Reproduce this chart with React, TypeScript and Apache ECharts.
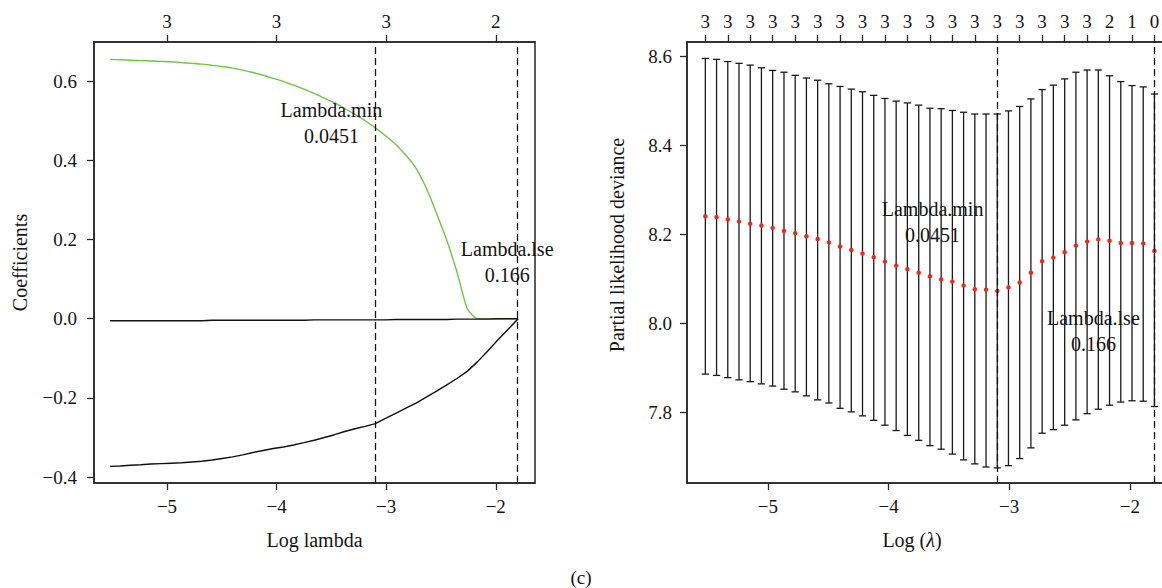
import React, { useEffect, useRef } from "react";
import * as echarts from "echarts";

// ---------- data ----------
const logLambda = [
  -5.519, -5.426, -5.333, -5.24, -5.147, -5.054, -4.961, -4.867, -4.774, -4.681,
  -4.588, -4.495, -4.402, -4.309, -4.216, -4.123, -4.03, -3.937, -3.844, -3.75,
  -3.657, -3.564, -3.471, -3.378, -3.285, -3.192, -3.099, -3.006, -2.913, -2.82,
  -2.727, -2.634, -2.54, -2.447, -2.354, -2.261, -2.168, -2.075, -1.982, -1.889,
  -1.796,
];

const cvMean = [
  8.241, 8.239, 8.234, 8.229, 8.224, 8.22, 8.215, 8.208, 8.203, 8.196,
  8.19, 8.182, 8.173, 8.165, 8.157, 8.149, 8.139, 8.13, 8.122, 8.114,
  8.106, 8.099, 8.094, 8.085, 8.077, 8.076, 8.073, 8.081, 8.092, 8.114,
  8.14, 8.148, 8.16, 8.175, 8.184, 8.189, 8.186, 8.181, 8.181, 8.18,
  8.163,
];

const cvUpper = [
  8.596, 8.594, 8.589, 8.585, 8.581, 8.575, 8.569, 8.565, 8.558, 8.552,
  8.547, 8.539, 8.533, 8.527, 8.521, 8.513, 8.506, 8.5, 8.496, 8.491,
  8.484, 8.483, 8.479, 8.475, 8.471, 8.471, 8.471, 8.478, 8.488, 8.505,
  8.526, 8.536, 8.55, 8.565, 8.57, 8.57, 8.557, 8.544, 8.535, 8.532,
  8.516,
];

const cvLower = [
  7.886, 7.883, 7.878, 7.873, 7.869, 7.864, 7.859, 7.852, 7.846, 7.837,
  7.828, 7.821, 7.809, 7.801, 7.792, 7.782, 7.771, 7.759, 7.748, 7.737,
  7.725, 7.717, 7.706, 7.693, 7.684, 7.677, 7.675, 7.68, 7.696, 7.72,
  7.753, 7.761, 7.771, 7.783, 7.797, 7.807, 7.816, 7.823, 7.826, 7.825,
  7.813,
];

const coefGreen = [
  0.655, 0.654, 0.653, 0.652, 0.651, 0.65, 0.649, 0.647, 0.645, 0.643,
  0.64, 0.637, 0.633, 0.628, 0.622, 0.615, 0.607, 0.599, 0.59, 0.58,
  0.569, 0.557, 0.545, 0.531, 0.516, 0.5, 0.482, 0.462, 0.44, 0.413,
  0.38, 0.33, 0.266, 0.198, 0.118, 0.026, 0, 0, 0, 0,
  0,
];

const coefBlackA = [
  -0.005, -0.005, -0.005, -0.005, -0.005, -0.005, -0.005, -0.005, -0.005, -0.005,
  -0.004, -0.004, -0.004, -0.004, -0.004, -0.004, -0.004, -0.004, -0.004, -0.004,
  -0.003, -0.003, -0.003, -0.003, -0.003, -0.003, -0.003, -0.003, -0.002, -0.002,
  -0.002, -0.002, -0.002, -0.002, -0.001, -0.001, -0.001, -0.001, 0, 0,
  0,
];

const coefBlackB = [
  -0.373, -0.372, -0.37, -0.369, -0.367, -0.366, -0.365, -0.364, -0.362, -0.36,
  -0.357, -0.353, -0.349, -0.344, -0.338, -0.333, -0.328, -0.324, -0.319, -0.313,
  -0.307, -0.3, -0.293, -0.285, -0.278, -0.272, -0.265, -0.252, -0.239, -0.226,
  -0.213, -0.198, -0.183, -0.167, -0.151, -0.133, -0.109, -0.082, -0.054, -0.027,
  0,
];

// number of non-zero coefficients at every second lambda (top axis of CV plot)
const cvTopLabels = [
  "3", "3", "3", "3", "3", "3", "3", "3", "3", "3",
  "3", "3", "3", "3", "3", "3", "3", "3", "2", "1", "0",
];

const coefTopTicks = [-5, -4, -3, -2];
const coefTopLabels = ["3", "3", "3", "2"];

const xTicks = [-5, -4, -3, -2];
const coefYTicks = [-0.4, -0.2, 0, 0.2, 0.4, 0.6];
const cvYTicks = [7.8, 8.0, 8.2, 8.4, 8.6];

const lambdaMin = "0.0451";
const lambdaLse = "0.166";
const logLambdaMin = -3.099;
const logLambdaLse = -1.796;

// ---------- style ----------
const FONT = "Liberation Serif";
const INK = "#141414";
const AXIS = "#262626";

const minus = (s: string) => s.replace("-", "\u2212");
const fmtInt = (v: number) => minus(String(Math.round(v)));
const fmt1 = (v: number) => minus((Math.abs(v) < 1e-9 ? 0 : v).toFixed(1));

const cvTopTicks = logLambda.filter((_, i) => i % 2 === 0);

function labelFromList(ticks: number[], labels: string[]) {
  return (v: number) => {
    let best = 0;
    let bd = Infinity;
    ticks.forEach((t, i) => {
      const d = Math.abs(t - v);
      if (d < bd) {
        bd = d;
        best = i;
      }
    });
    return labels[best];
  };
}

function xAxisCfg(grid: number, pos: "top" | "bottom", min: number, max: number, ticks: number[], formatter: (v: number) => string, margin: number) {
  return {
    type: "value",
    gridIndex: grid,
    position: pos,
    min,
    max,
    splitLine: { show: false },
    axisLine: { show: true, onZero: false, lineStyle: { color: AXIS, width: 1.5 } },
    axisTick: { show: true, customValues: ticks, length: 7, lineStyle: { color: AXIS, width: 1.3 } },
    axisLabel: {
      show: true,
      customValues: ticks,
      formatter,
      margin,
      fontFamily: FONT,
      fontSize: 19,
      color: INK,
      hideOverlap: false,
    },
  };
}

function yAxisCfg(grid: number, min: number, max: number, ticks: number[], margin: number) {
  return {
    type: "value",
    gridIndex: grid,
    min,
    max,
    splitLine: { show: false },
    axisLine: { show: true, onZero: false, lineStyle: { color: AXIS, width: 1.5 } },
    axisTick: { show: true, customValues: ticks, length: 7, lineStyle: { color: AXIS, width: 1.3 } },
    axisLabel: { show: true, customValues: ticks, formatter: fmt1, margin, fontFamily: FONT, fontSize: 19, color: INK },
  };
}

const dashedLines = {
  silent: true,
  symbol: ["none", "none"],
  label: { show: false },
  lineStyle: { type: [7, 4], color: INK, width: 1.3, opacity: 1 },
  data: [{ xAxis: logLambdaMin }, { xAxis: logLambdaLse }],
};

const annoLabel = {
  show: true,
  position: "inside",
  formatter: (p: any) => p.data[2],
  fontFamily: FONT,
  fontSize: 20,
  lineHeight: 26,
  color: INK,
  opacity: 1,
  textBorderWidth: 0,
  textBorderColor: "transparent",
};

const textStyle = (text: string, size: number) => ({
  text,
  fontFamily: FONT,
  fontSize: size,
  fill: INK,
  align: "center",
  verticalAlign: "middle",
});

export default function App() {
  const ref = useRef<HTMLDivElement>(null);

  useEffect(() => {
    if (!ref.current) return;
    const chart = echarts.init(ref.current, undefined, { renderer: "svg" });

    const zip = (ys: number[]) => logLambda.map((x, i) => [x, ys[i]]);

    const gridBase = {
      top: 42,
      height: 441,
      show: true,
      borderColor: AXIS,
      borderWidth: 1.5,
      containLabel: false,
      outerBoundsMode: "none",
    };

    const option: any = {
      animation: false,
      backgroundColor: "#ffffff",
      grid: [
        { ...gridBase, left: 94, width: 441 },
        { ...gridBase, left: 687, width: 486 },
      ],
      xAxis: [
        xAxisCfg(0, "bottom", -5.666, -1.642, xTicks, fmtInt, 14),
        xAxisCfg(0, "top", -5.666, -1.642, coefTopTicks, labelFromList(coefTopTicks, coefTopLabels), 11),
        xAxisCfg(1, "bottom", -5.671, -1.642, xTicks, fmtInt, 14),
        xAxisCfg(1, "top", -5.671, -1.642, cvTopTicks, labelFromList(cvTopTicks, cvTopLabels), 11),
      ],
      yAxis: [
        yAxisCfg(0, -0.415, 0.699, coefYTicks, 17),
        yAxisCfg(1, 7.641, 8.633, cvYTicks, 15),
      ],
      series: [
        {
          type: "line",
          xAxisIndex: 0,
          yAxisIndex: 0,
          data: zip(coefGreen),
          showSymbol: false,
          smooth: 0.2,
          lineStyle: { color: "#6cc644", width: 1.4 },
          z: 2,
          markLine: dashedLines,
        },
        {
          type: "line",
          xAxisIndex: 0,
          yAxisIndex: 0,
          data: zip(coefBlackA),
          showSymbol: false,
          lineStyle: { color: "#111", width: 1.4 },
          z: 3,
        },
        {
          type: "line",
          xAxisIndex: 0,
          yAxisIndex: 0,
          data: zip(coefBlackB),
          showSymbol: false,
          lineStyle: { color: "#111", width: 1.4 },
          z: 3,
        },
        {
          type: "scatter",
          xAxisIndex: 0,
          yAxisIndex: 0,
          symbolSize: 0,
          itemStyle: { opacity: 1 },
          data: [
            [-3.5, 0.4945, "Lambda.min\n" + lambdaMin],
            [-1.896, 0.1425, "Lambda.lse\n" + lambdaLse],
          ],
          label: annoLabel,
          z: 5,
        },
        {
          type: "custom",
          xAxisIndex: 2,
          yAxisIndex: 1,
          data: logLambda.map((x, i) => [x, cvLower[i], cvUpper[i]]),
          renderItem: (params: any, api: any) => {
            const x = api.value(0);
            const lo = api.coord([x, api.value(1)]);
            const hi = api.coord([x, api.value(2)]);
            const hw = 3.6;
            const st = { stroke: "#1a1a1a", lineWidth: 1.3 };
            return {
              type: "group",
              children: [
                { type: "line", shape: { x1: lo[0], y1: lo[1], x2: hi[0], y2: hi[1] }, style: st },
                { type: "line", shape: { x1: hi[0] - hw, y1: hi[1], x2: hi[0] + hw, y2: hi[1] }, style: st },
                { type: "line", shape: { x1: lo[0] - hw, y1: lo[1], x2: lo[0] + hw, y2: lo[1] }, style: st },
              ],
            };
          },
          z: 2,
        },
        {
          type: "scatter",
          xAxisIndex: 2,
          yAxisIndex: 1,
          data: zip(cvMean),
          symbol: "circle",
          symbolSize: 4.5,
          itemStyle: { color: "#f0281a", opacity: 1 },
          z: 4,
          markLine: dashedLines,
        },
        {
          type: "scatter",
          xAxisIndex: 2,
          yAxisIndex: 1,
          symbolSize: 0,
          itemStyle: { opacity: 1 },
          data: [
            [-3.635, 8.229, "Lambda.min\n" + lambdaMin],
            [-2.302, 7.9825, "Lambda.lse\n" + lambdaLse],
          ],
          label: annoLabel,
          z: 5,
        },
      ],
      graphic: [
        { type: "text", x: 20, y: 262.5, rotation: Math.PI / 2, style: textStyle("Coefficients", 20) },
        { type: "text", x: 314.5, y: 540, style: textStyle("Log lambda", 20) },
        { type: "text", x: 617, y: 245, rotation: Math.PI / 2, style: textStyle("Partial likelihood deviance", 20) },
        {
          type: "text",
          x: 912,
          y: 540,
          style: {
            text: "{a|Log (}{b|λ}{a|)}",
            fill: INK,
            align: "center",
            verticalAlign: "middle",
            rich: {
              a: { fontFamily: FONT, fontSize: 20, fill: INK },
              b: { fontFamily: FONT, fontSize: 20, fontStyle: "italic", fill: INK },
            },
          },
        },
        { type: "text", x: 581, y: 577, style: textStyle("(c)", 19) },
      ],
    };

    chart.setOption(option);
    return () => chart.dispose();
  }, []);

  return (
    <div
      ref={ref}
      style={{ position: "absolute", left: 0, top: 0, width: 1162, height: 588, background: "#fff" }}
    />
  );
}
